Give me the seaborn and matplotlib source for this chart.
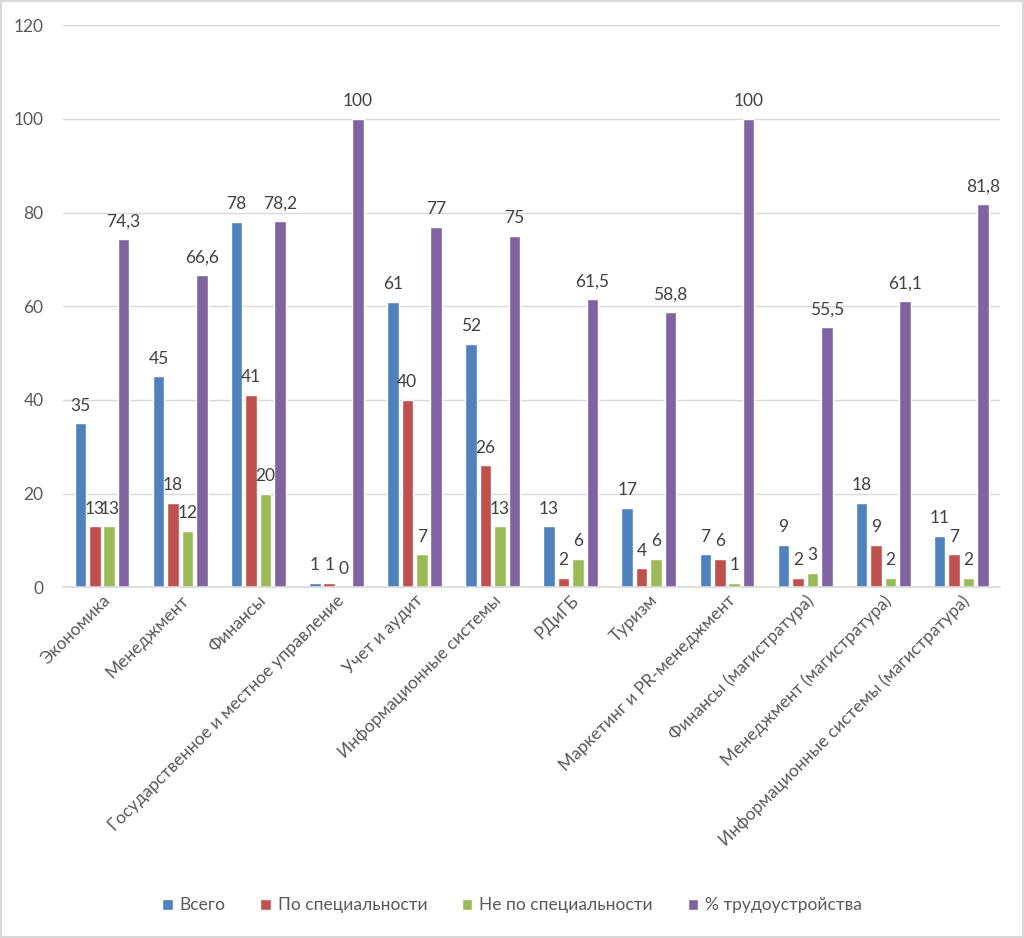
import pandas as pd
import matplotlib.pyplot as plt
import seaborn as sns
from matplotlib.patches import Rectangle

# Data
categories = ["Экономика", "Менеджмент", "Финансы", "Государственное и местное управление",
              "Учет и аудит", "Информационные системы", "РДиГБ", "Туризм",
              "Маркетинг и PR-менеджмент", "Финансы (магистратура)",
              "Менеджмент (магистратура)", "Информационные системы (магистратура)"]
total = [35, 45, 78, 1, 61, 52, 13, 17, 7, 9, 18, 11]
by_spec = [13, 18, 41, 1, 40, 26, 2, 4, 6, 2, 9, 7]
not_spec = [13, 12, 20, 0, 7, 13, 6, 6, 1, 3, 2, 2]
employ_pct = [74.3, 66.6, 78.2, 100, 77, 75, 61.5, 58.8, 100, 55.5, 61.1, 81.8]

series_names = ["Всего", "По специальности", "Не по специальности", "% трудоустройства"]
colors = ["#4F81BD", "#C0504D", "#9BBB59", "#8064A2"]

rows = []
for name, vals in zip(series_names, [total, by_spec, not_spec, employ_pct]):
    for cat, v in zip(categories, vals):
        rows.append({"Направление": cat, "Серия": name, "Значение": v})
df = pd.DataFrame(rows)

sns.set_style("white")
plt.rcParams["font.family"] = ["Lato", "DejaVu Sans"]

fig = plt.figure(figsize=(10.24, 9.38), dpi=100)
ax = fig.add_axes([0.0615, 0.374, 0.9155, 0.599])

sns.barplot(data=df, x="Направление", y="Значение", hue="Серия",
            hue_order=series_names, palette=colors, order=categories,
            width=0.74, gap=0.2, saturation=1, ax=ax, legend=True)

# data labels
def fmt(v):
    if float(v).is_integer():
        return str(int(v))
    return f"{v:.1f}".replace(".", ",")

for cont, vals in zip(ax.containers, [total, by_spec, not_spec, employ_pct]):
    ax.bar_label(cont, labels=[fmt(v) for v in vals], padding=7,
                 fontsize=12.5, color="#404040")

ax.set_ylim(0, 120)
ax.set_xlim(-0.5, len(categories) - 0.5)
ax.set_yticks(range(0, 121, 20))
ax.yaxis.grid(True, color="#D9D9D9", linewidth=1)
ax.set_axisbelow(True)
for s in ["top", "right", "left"]:
    ax.spines[s].set_visible(False)
ax.spines["bottom"].set_color("#D9D9D9")
ax.spines["bottom"].set_linewidth(1.2)
ax.set_xlabel("")
ax.set_ylabel("")
ax.tick_params(axis="both", length=0, labelsize=12.5, colors="#595959")
ax.tick_params(axis="y", pad=14)
plt.setp(ax.get_xticklabels(), rotation=45, ha="right", rotation_mode="anchor")

ax.legend(loc="center", bbox_to_anchor=(0.5, 0.035), bbox_transform=fig.transFigure,
          ncol=4, frameon=False, fontsize=12.5, handlelength=0.6, handleheight=0.6,
          columnspacing=2.0, handletextpad=0.4, labelcolor="#595959")

fig.patches.append(Rectangle((0.001, 0.001), 0.998, 0.998, transform=fig.transFigure,
                             fill=False, edgecolor="#D9D9D9", linewidth=1.5))

fig.savefig("out.png", dpi=100)
